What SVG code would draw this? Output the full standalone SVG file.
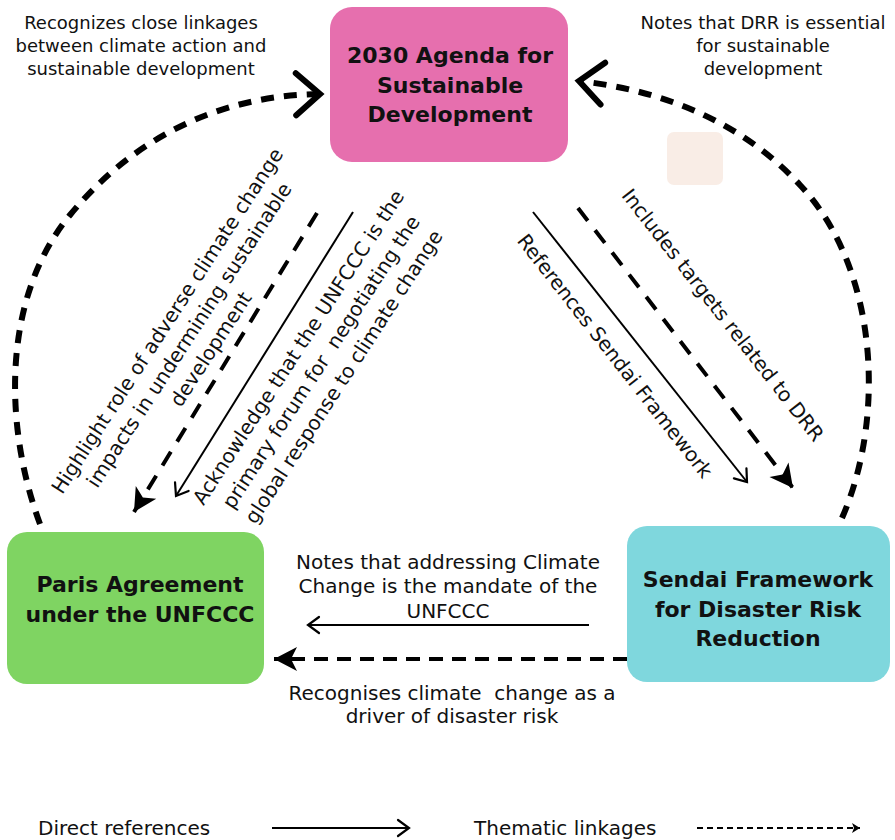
<svg xmlns="http://www.w3.org/2000/svg" width="895" height="840" viewBox="0 0 895 840">
  <style>
    .node-title { font-family: "DejaVu Sans", "Open Sans", sans-serif; font-weight: 700; font-size: 22px; fill: #111; text-anchor: middle; }
    .label { font-family: "DejaVu Sans", "Open Sans", sans-serif; font-size: 18px; fill: #111; text-anchor: middle; white-space: pre; }
    .label-lg { font-size: 20px; }
    .legend { font-family: "DejaVu Sans", "Open Sans", sans-serif; font-size: 20px; fill: #111; }
    .thick-dash { fill: none; stroke: #000; stroke-width: 6; stroke-dasharray: 13 10; }
    .mid-dash { fill: none; stroke: #000; stroke-width: 4; stroke-dasharray: 16 12; }
    .thin { fill: none; stroke: #000; stroke-width: 2; }
  </style>
  <defs>
    <marker id="chev-big" markerUnits="userSpaceOnUse" viewBox="-32 -28 40 56" markerWidth="40" markerHeight="56" refX="0" refY="0" orient="auto" overflow="visible">
      <path d="M-24,-21 L0,0 L-24,21" fill="none" stroke="#000" stroke-width="6" stroke-dasharray="none" stroke-linecap="round" stroke-linejoin="miter"/>
    </marker>
    <marker id="chev-thin" markerUnits="userSpaceOnUse" viewBox="-16 -10 20 20" markerWidth="20" markerHeight="20" refX="0" refY="0" orient="auto" overflow="visible">
      <path d="M-11,-8 L0,0 L-11,8" fill="none" stroke="#000" stroke-width="2.2" stroke-dasharray="none" stroke-linecap="round"/>
    </marker>
    <marker id="tri-fill" markerUnits="userSpaceOnUse" viewBox="-26 -14 30 28" markerWidth="30" markerHeight="28" refX="0" refY="0" orient="auto" overflow="visible">
      <path d="M0,0 L-23,-12 L-17,0 L-23,12 Z" fill="#000" stroke="none"/>
    </marker>
    <marker id="tri-small" markerUnits="userSpaceOnUse" viewBox="-10 -6 12 12" markerWidth="12" markerHeight="12" refX="0" refY="0" orient="auto" overflow="visible">
      <path d="M0,0 L-8,-5 L-6,0 L-8,5 Z" fill="#000" stroke="none"/>
    </marker>
  </defs>

  <rect width="895" height="840" fill="#ffffff"/>

  <!-- small decorative tile -->
  <rect x="667" y="132" width="56" height="53" rx="7" fill="#f9ede6"/>

  <!-- nodes -->
  <g id="agenda-2030">
    <rect x="330" y="7" width="238" height="155" rx="22" fill="#e66fae"/>
    <text class="node-title" x="450" y="63">2030 Agenda for</text>
    <text class="node-title" x="450" y="93">Sustainable</text>
    <text class="node-title" x="450" y="122">Development</text>
  </g>

  <g id="paris-agreement">
    <rect x="7" y="532" width="257" height="152" rx="20" fill="#7fd462"/>
    <text class="node-title" x="140" y="592">Paris Agreement</text>
    <text class="node-title" x="140" y="622">under the UNFCCC</text>
  </g>

  <g id="sendai-framework">
    <rect x="627" y="526" width="263" height="156" rx="20" fill="#7fd7dd"/>
    <text class="node-title" x="758" y="587">Sendai Framework</text>
    <text class="node-title" x="758" y="617">for Disaster Risk</text>
    <text class="node-title" x="758" y="646">Reduction</text>
  </g>

  <!-- connectors -->
  <g id="connectors">
    <!-- Paris -> 2030 Agenda (thematic, curved) -->
    <path class="thick-dash" d="M40,524 C5,430 0,300 70,215 C140,130 230,95 320,94" marker-end="url(#chev-big)"/>
    <!-- Sendai -> 2030 Agenda (thematic, curved) -->
    <path class="thick-dash" d="M842,518 C885,420 880,270 800,185 C740,120 660,90 579,81" marker-end="url(#chev-big)"/>

    <!-- 2030 Agenda -> Paris -->
    <path class="mid-dash" d="M317,213 L134,512" marker-end="url(#tri-fill)"/>
    <path class="thin" d="M353,212 L176,496" marker-end="url(#chev-thin)"/>

    <!-- 2030 Agenda -> Sendai -->
    <path class="thin" d="M533,212 L747,482" marker-end="url(#chev-thin)"/>
    <path class="mid-dash" d="M578,208 L793,488" marker-end="url(#tri-fill)"/>

    <!-- Sendai -> Paris -->
    <path class="thin" d="M589,625 L308,625" marker-end="url(#chev-thin)"/>
    <path class="mid-dash" style="stroke-dasharray: 14 9" d="M627,659 L274,659" marker-end="url(#tri-fill)"/>
  </g>

  <!-- connector labels -->
  <g id="labels">
    <text class="label" x="141" y="29">Recognizes close linkages</text>
    <text class="label" x="141" y="52">between climate action and</text>
    <text class="label" x="141" y="75">sustainable development</text>

    <text class="label" x="763" y="29">Notes that DRR is essential</text>
    <text class="label" x="763" y="52">for sustainable</text>
    <text class="label" x="763" y="75">development</text>

    <g transform="translate(189,335) rotate(-57)">
      <text class="label label-lg" x="0" y="-19">Highlight role of adverse climate change</text>
      <text class="label label-lg" x="0" y="7">impacts in undermining sustainable</text>
      <text class="label label-lg" x="0" y="33">development</text>
    </g>

    <g transform="translate(321,362) rotate(-57)">
      <text class="label label-lg" x="0" y="-20">Acknowledge that the UNFCCC is the</text>
      <text class="label label-lg" x="0" y="7">primary forum for  negotiating the</text>
      <text class="label label-lg" x="0" y="34">global response to climate change</text>
    </g>

    <g transform="translate(723,315) rotate(52)">
      <text class="label label-lg" x="0" y="7">Includes targets related to DRR</text>
    </g>

    <g transform="translate(615,356) rotate(52)">
      <text class="label label-lg" x="0" y="7">References Sendai Framework</text>
    </g>

    <text class="label label-lg" x="448" y="569">Notes that addressing Climate</text>
    <text class="label label-lg" x="448" y="593">Change is the mandate of the</text>
    <text class="label label-lg" x="448" y="618">UNFCCC</text>

    <text class="label label-lg" x="452" y="700">Recognises climate  change as a</text>
    <text class="label label-lg" x="452" y="723">driver of disaster risk</text>
  </g>

  <!-- legend -->
  <g id="legend">
    <text class="legend" x="38" y="835">Direct references</text>
    <path class="thin" d="M272,828 L409,828" stroke-width="2.5" marker-end="url(#chev-thin)"/>
    <text class="legend" x="474" y="835">Thematic linkages</text>
    <path class="thin" style="stroke-dasharray: 6 4" d="M697,828 L860,828" marker-end="url(#tri-small)"/>
  </g>
</svg>
